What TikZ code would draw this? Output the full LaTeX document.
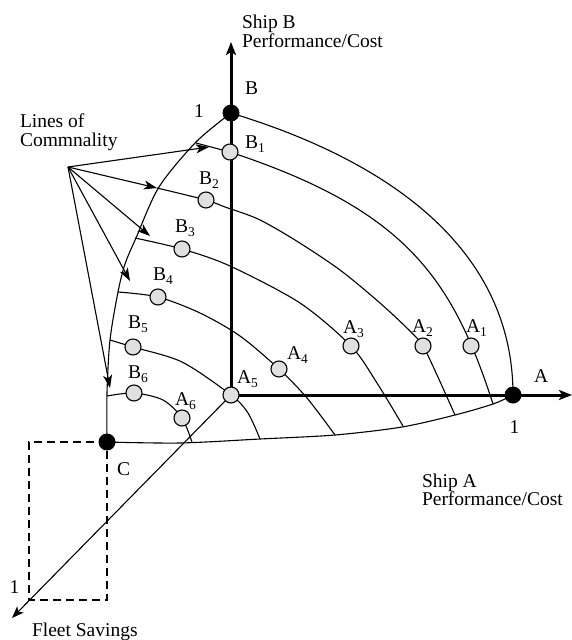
\documentclass[tikz,border=0pt]{standalone}
\usepackage{fontspec}
\setmainfont{Liberation Serif}
\usetikzlibrary{arrows.meta}
\newcommand\lsub[1]{\raisebox{-4.5pt}{\fontsize{13.5}{13.5}\selectfont #1}}
\begin{document}
\begin{tikzpicture}[x=1pt,y=-1pt,
  every node/.style={font=\fontsize{19.5}{19}\selectfont, inner sep=0pt, outer sep=0pt},
  curve/.style={line width=1.1pt},
  axisline/.style={line width=3pt, -{Stealth[length=13pt,width=10pt,inset=3pt]}},
  faxis/.style={line width=1.1pt, -{Stealth[length=12pt,width=9pt,inset=3pt]}},
  pointer/.style={line width=1.1pt, -{Stealth[length=13pt,width=9pt,inset=3.5pt]}},
  dashbox/.style={line width=1.1pt, dash pattern=on 8pt off 5pt},
  opt/.style={circle, draw, line width=1.1pt, fill=black!12, minimum size=16pt},
  ext/.style={circle, fill=black, minimum size=17pt},
  lbl/.style={anchor=base west},
  num/.style={anchor=base},
]
\useasboundingbox (0,0) rectangle (572,640);

% key points
\coordinate (pA5) at (231,395);
\coordinate (pB) at (231,113);
\coordinate (pA) at (513,395);
\coordinate (pC) at (107,442);
\coordinate (ytip) at (231,42);
\coordinate (xtip) at (572,395);
\coordinate (ztip) at (12,618);
\coordinate (fs1) at (29,600);
\coordinate (pB1) at (230,152);
\coordinate (pB2) at (206,200);
\coordinate (pB3) at (182,249);
\coordinate (pB4) at (158,297);
\coordinate (pB5) at (133,347);
\coordinate (pB6) at (134,393);
\coordinate (pA1) at (471,346);
\coordinate (pA2) at (423,346);
\coordinate (pA3) at (351,346);
\coordinate (pA4) at (279,369);
\coordinate (pA6) at (182,418);
\coordinate (src) at (68,167);
\coordinate (t1) at (209,147);
\coordinate (t2) at (157,188);
\coordinate (t3) at (150,236);
\coordinate (t4) at (130,281);
\coordinate (t5) at (110,388);

% dashed box
\draw[dashbox] (pC) -| (fs1) -| (pC);

% axes
\draw[axisline] (pA5) -- (ytip);
\draw[axisline] (pA5) -- (xtip);
\draw[faxis] (pA5) -- (ztip);

% boundary curves
\draw[curve] plot[smooth] coordinates {(pB) (196,142) (159,187) (136,238) (125,264) (118,292) (110,340) (107,393) (pC)};
\draw[curve] (pB) .. controls (386,160) and (513,247) .. (pA);
\draw[curve] plot[smooth] coordinates {(pC) (180,443) (260,439) (335,435) (402,427) (455,415) (493,404) (pA)};

% lines of commonality
\draw[curve] (196,143) -- (pB1) .. controls (404.6,209.6) and (452,277) .. (493,404);
\draw[curve] plot[smooth] coordinates {(157,188) (pB2) (225,207) (258,219) (295,240) (340,270) (380,303) (410,331) (pA2) (437,375) (455,415)};
\draw[curve] plot[smooth] coordinates {(135,238) (pB3) (230,266) (300,303) (pA3) (377,383) (403,426)};
\draw[curve] plot[smooth] coordinates {(118,292) (pB4) (200,313) (240,336) (pA4) (307,398) (335,435)};
\draw[curve] plot[smooth] coordinates {(110,340) (pB5) (182,362) (pA5) (248,413) (260,439)};
\draw[curve] plot[smooth] coordinates {(107,396) (pB6) (163,400) (pA6) (192,442)};

% pointers
\draw[pointer] (src) -- (t1);
\draw[pointer] (src) -- (t2);
\draw[pointer] (src) -- (t3);
\draw[pointer] (src) -- (t4);
\draw[pointer] (src) -- (t5);

% points
\node[opt] (nA5) at (pA5) {};
\node[opt] (nB1) at (pB1) {};
\node[opt] (nB2) at (pB2) {};
\node[opt] (nB3) at (pB3) {};
\node[opt] (nB4) at (pB4) {};
\node[opt] (nB5) at (pB5) {};
\node[opt] (nB6) at (pB6) {};
\node[opt] (nA1) at (pA1) {};
\node[opt] (nA2) at (pA2) {};
\node[opt] (nA3) at (pA3) {};
\node[opt] (nA4) at (pA4) {};
\node[opt] (nA6) at (pA6) {};
\node[ext] (nB) at (pB) {};
\node[ext] (nA) at (pA) {};
\node[ext] (nC) at (pC) {};

% labels
\node[lbl] (tShipB) at (242,28) {Ship B};
\node[lbl] (tPerfB) at (242,47) {Performance/Cost};
\node[lbl] (tShipA) at (422,487) {Ship A};
\node[lbl] (tPerfA) at (422,505) {Performance/Cost};
\node[lbl] (tLines) at (20,127) {Lines of};
\node[lbl] (tComm) at (20,146) {Commnality};
\node[lbl] (tFleet) at (32,636) {Fleet Savings};
\node[lbl] (lB) at (245,94) {B};
\node[lbl] (lA) at (534,382) {A};
\node[lbl] (lC) at (117,475) {C};
\node[num] (oneB) at (199,117) {1};
\node[num] (oneA) at (514.5,433) {1};
\node[num] (oneF) at (14.5,593) {1};
\node[lbl] (lB1) at (245,148) {B\lsub{1}};
\node[lbl] (lB2) at (199,184) {B\lsub{2}};
\node[lbl] (lB3) at (175,232) {B\lsub{3}};
\node[lbl] (lB4) at (153,280) {B\lsub{4}};
\node[lbl] (lB5) at (128,328) {B\lsub{5}};
\node[lbl] (lB6) at (128,378) {B\lsub{6}};
\node[lbl] (lA6) at (175,405) {A\lsub{6}};
\node[lbl] (lA5) at (237,383) {A\lsub{5}};
\node[lbl] (lA4) at (287,359) {A\lsub{4}};
\node[lbl] (lA3) at (343,333) {A\lsub{3}};
\node[lbl] (lA2) at (412,332) {A\lsub{2}};
\node[lbl] (lA1) at (466,332) {A\lsub{1}};
\end{tikzpicture}
\end{document}
